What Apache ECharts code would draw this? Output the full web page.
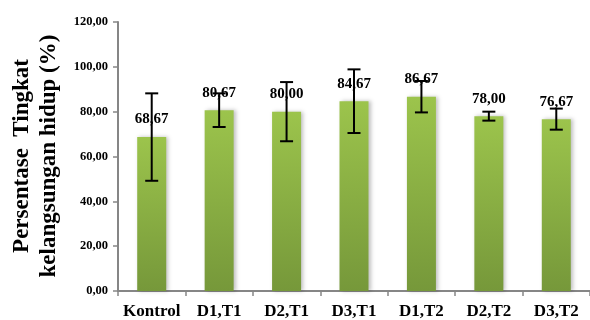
<!DOCTYPE html>
<html>
<head>
<meta charset="utf-8">
<script src="https://cdn.jsdelivr.net/npm/echarts@6/dist/echarts.min.js"></script>
<style>html,body{margin:0;padding:0;background:#fff}#c{width:590px;height:320px}</style>
</head>
<body>
<div id="c"></div>
<script>
var categories = ['Kontrol', 'D1,T1', 'D2,T1', 'D3,T1', 'D1,T2', 'D2,T2', 'D3,T2'];
var values = [68.67, 80.67, 80.00, 84.67, 86.67, 78.00, 76.67];
var errors = [19.5, 7.5, 13.2, 14.2, 7.0, 2.0, 4.7];
var yTicks = [0, 20, 40, 60, 80, 100, 120];

function fmt(v) { return Number(v).toFixed(2).replace('.', ','); }
var serif = '"Liberation Serif", "Times New Roman", serif';

var errData = categories.map(function (c, i) { return [i, values[i] - errors[i], values[i] + errors[i]]; });

var chart = echarts.init(document.getElementById('c'), null, { renderer: 'canvas' });
chart.setOption({
  animation: false,
  grid: { left: 118, top: 22, height: 269, width: 484, containLabel: false },
  xAxis: {
    type: 'category',
    data: categories,
    axisLine: { lineStyle: { color: '#868686', width: 2 } },
    axisTick: { show: true, length: 5, lineStyle: { color: '#868686', width: 1.5 } },
    axisLabel: { color: '#000', fontFamily: serif, fontWeight: 'bold', fontSize: 17, margin: 12, interval: 0 }
  },
  yAxis: {
    type: 'value',
    min: yTicks[0], max: yTicks[yTicks.length - 1], interval: 20,
    splitLine: { show: false },
    axisLine: { show: true, lineStyle: { color: '#868686', width: 2 } },
    axisTick: { show: true, length: 5, lineStyle: { color: '#868686', width: 1.5 } },
    axisLabel: { color: '#000', fontFamily: serif, fontWeight: 'bold', fontSize: 12.5, margin: 10, formatter: fmt }
  },
  graphic: [
    { type: 'text', x: 22, y: 156, rotation: Math.PI / 2, style: { text: 'Persentase  Tingkat', x: 0, y: 0, align: 'center', verticalAlign: 'middle', fill: '#000', font: 'bold 23px ' + serif } },
    { type: 'text', x: 49, y: 156, rotation: Math.PI / 2, style: { text: 'kelangsungan hidup (%)', x: 0, y: 0, align: 'center', verticalAlign: 'middle', fill: '#000', font: 'bold 23px ' + serif } }
  ],
  series: [
    {
      type: 'bar',
      data: values,
      barWidth: 29,
      itemStyle: {
        color: new echarts.graphic.LinearGradient(0, 0, 0, 1, [
          { offset: 0, color: '#9cc44c' },
          { offset: 1, color: '#76983a' }
        ]),
        shadowColor: 'rgba(0,0,0,0.25)', shadowBlur: 4, shadowOffsetX: 2
      },
      label: {
        show: true, position: 'top', distance: 10,
        color: '#000', fontFamily: serif, fontWeight: 'bold', fontSize: 15,
        formatter: function (p) { return fmt(p.value); }
      },
      z: 2
    },
    {
      type: 'custom',
      data: errData,
      z: 5,
      renderItem: function (params, api) {
        var x = api.value(0);
        var lo = api.coord([x, api.value(1)]);
        var hi = api.coord([x, api.value(2)]);
        var hw = 6.5;
        var st = { stroke: '#000', lineWidth: 2 };
        return {
          type: 'group',
          children: [
            { type: 'line', shape: { x1: lo[0], y1: lo[1], x2: hi[0], y2: hi[1] }, style: st },
            { type: 'line', shape: { x1: lo[0] - hw, y1: lo[1], x2: lo[0] + hw, y2: lo[1] }, style: st },
            { type: 'line', shape: { x1: hi[0] - hw, y1: hi[1], x2: hi[0] + hw, y2: hi[1] }, style: st }
          ]
        };
      }
    }
  ]
});
</script>
</body>
</html>
